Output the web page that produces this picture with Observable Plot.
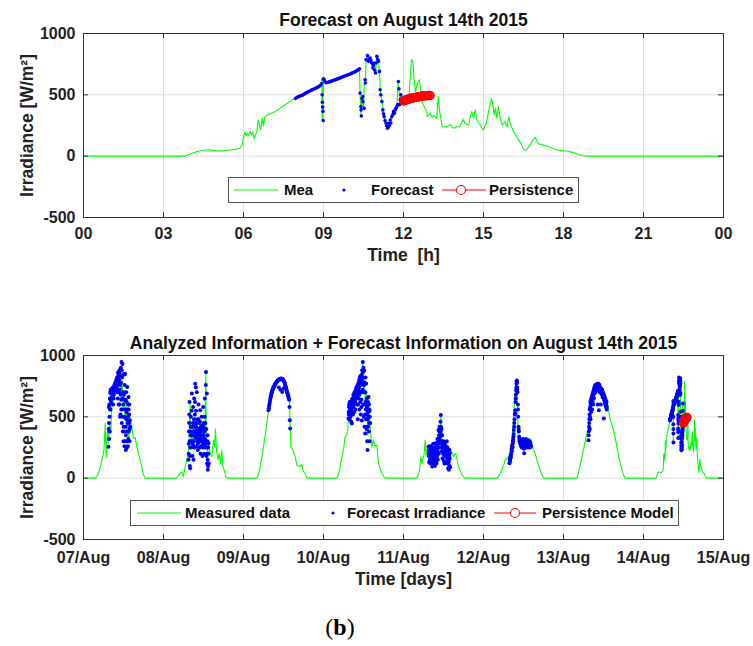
<!DOCTYPE html>
<html>
<head>
<meta charset="utf-8">
<script src="https://cdn.jsdelivr.net/npm/d3@7"></script>
<script src="https://cdn.jsdelivr.net/npm/@observablehq/plot@0.6"></script>
<style>
  body { margin: 0; background: #fff; }
  #wrap { position: relative; width: 753px; height: 646px; overflow: hidden; font-family: "Liberation Sans", Arial, sans-serif; }
  .chart { position: absolute; left: 0; }
  .legend { position: absolute; background: #fff; border: 1px solid #555; box-sizing: border-box; }
  #caption { position: absolute; left: 290px; width: 100px; top: 614px; text-align: center; font-family: "Liberation Serif", serif; font-size: 24px; color: #000; }
</style>
</head>
<body>
<div id="wrap">
  <div id="c1" class="chart" style="top:0px"></div>
  <div id="c2" class="chart" style="top:300px"></div>
  <div id="leg1" class="legend" style="left:228px; top:177px; width:351px; height:26px"></div>
  <div id="leg2" class="legend" style="left:130px; top:500px; width:549px; height:26px"></div>
  <div id="caption">(<b>b</b>)</div>
</div>
<script>
// ---------- tick labels ----------
const hourTicks = [0, 3, 6, 9, 12, 15, 18, 21, 24];
const hourTickLabels = ["00", "03", "06", "09", "12", "15", "18", "21", "00"];
const dayTicks = [0, 1, 2, 3, 4, 5, 6, 7, 8];
const dayTickLabels = ["07/Aug", "08/Aug", "09/Aug", "10/Aug", "11/Aug", "12/Aug", "13/Aug", "14/Aug", "15/Aug"];
const yTicks = [-500, 0, 500, 1000];
const yTickLabels = ["-500", "0", "500", "1000"];

const title1 = "Forecast on August 14th 2015";
const title2 = "Analyzed Information + Forecast Information on August 14th 2015";
const yLabel = "Irradiance [W/m²]";
const xLabel1 = "Time  [h]";
const xLabel2 = "Time [days]";
const legend1 = ["Mea", "Forecast", "Persistence"];
const legend2 = ["Measured data", "Forecast Irradiance", "Persistence Model"];

// ---------- August 14th (hour, W/m2) ----------
const meaAug14 = [[0,0],[3.75,0],[3.9,8],[4.1,25],[4.3,40],[4.5,50],[4.7,52],[4.9,47],[5.1,42],[5.3,45],[5.5,50],[5.7,55],[5.85,62],[5.95,90],[6.0,150],[6.05,195],[6.1,165],[6.15,185],[6.2,170],[6.25,200],[6.3,175],[6.35,195],[6.4,140],[6.5,200],[6.55,295],[6.6,250],[6.65,215],[6.7,310],[6.75,245],[6.8,320],[6.9,335],[7.0,345],[7.2,365],[7.4,395],[7.6,425],[7.8,455],[7.95,472],[8.2,497],[8.5,533],[8.9,580],[8.94,630],[8.95,290],[8.97,300],[8.99,630],[9.1,598],[9.5,628],[10.0,670],[10.35,712],[10.37,514],[10.4,330],[10.45,480],[10.5,390],[10.53,600],[10.57,620],[10.6,787],[10.65,820],[10.7,773],[10.75,800],[10.8,760],[10.85,719],[10.9,760],[10.95,678],[11.0,814],[11.06,773],[11.1,691],[11.13,541],[11.15,500],[11.2,445],[11.25,345],[11.3,290],[11.35,268],[11.4,227],[11.45,268],[11.5,295],[11.56,322],[11.63,363],[11.7,377],[11.75,404],[11.8,609],[11.83,550],[11.86,420],[11.9,500],[11.95,459],[12.0,445],[12.1,470],[12.2,486],[12.3,787],[12.35,773],[12.4,623],[12.45,527],[12.5,582],[12.6,623],[12.65,527],[12.7,445],[12.8,390],[12.85,377],[12.9,322],[13.0,350],[13.06,317],[13.15,330],[13.25,309],[13.3,486],[13.35,377],[13.45,240],[13.6,240],[13.75,254],[13.9,227],[14.0,240],[14.1,240],[14.25,300],[14.3,268],[14.45,254],[14.5,322],[14.56,363],[14.63,309],[14.69,377],[14.75,295],[14.88,254],[15.0,213],[15.12,281],[15.2,377],[15.3,473],[15.35,418],[15.4,336],[15.45,390],[15.5,309],[15.56,404],[15.63,309],[15.7,254],[15.8,281],[15.88,240],[15.95,322],[16.0,268],[16.1,213],[16.25,158],[16.4,104],[16.5,55],[16.6,49],[16.75,90],[16.85,131],[16.95,153],[17.05,104],[17.25,90],[17.45,77],[17.6,63],[17.8,49],[18.0,44],[18.2,40],[18.4,27],[18.6,10],[18.85,0],[24,0]];

const fcAug14 = [[7.95,470],[8.0,478],[8.05,483],[8.1,488],[8.15,492],[8.2,497],[8.25,502],[8.3,510],[8.35,516],[8.4,522],[8.45,527],[8.5,533],[8.55,538],[8.6,543],[8.65,548],[8.7,553],[8.75,558],[8.8,565],[8.85,572],[8.9,580],[8.93,590],[8.95,500],[8.96,440],[8.97,400],[8.98,365],[8.99,290],[9.0,630],[9.02,625],[9.05,610],[9.1,598],[9.15,600],[9.2,605],[9.25,608],[9.3,612],[9.35,616],[9.4,620],[9.45,623],[9.5,628],[9.55,632],[9.6,636],[9.65,640],[9.7,645],[9.75,650],[9.8,654],[9.85,658],[9.9,662],[9.95,666],[10.0,670],[10.05,675],[10.1,680],[10.15,685],[10.2,690],[10.25,697],[10.3,705],[10.35,712],[10.375,514],[10.4,404],[10.41,377],[10.42,328],[10.44,470],[10.475,486],[10.48,445],[10.525,390],[10.56,623],[10.57,596],[10.6,787],[10.65,820],[10.69,773],[10.72,790],[10.75,800],[10.78,780],[10.81,760],[10.85,719],[10.87,740],[10.9,760],[10.92,700],[10.95,678],[10.97,760],[11.0,814],[11.03,790],[11.06,773],[11.1,691],[11.125,541],[11.15,500],[11.19,445],[11.225,377],[11.25,345],[11.275,322],[11.31,290],[11.35,268],[11.375,245],[11.4,227],[11.425,235],[11.45,268],[11.475,250],[11.5,295],[11.525,270],[11.56,322],[11.6,340],[11.625,363],[11.66,350],[11.69,377],[11.72,390],[11.75,404],[11.78,420],[11.81,609],[11.83,550],[11.85,420],[11.875,460],[11.9,500],[11.94,459],[11.97,440]];

const persAug14 = [[12.00,450],[12.03,453],[12.07,456],[12.10,459],[12.13,461],[12.17,464],[12.20,466],[12.23,468],[12.27,470],[12.30,472],[12.33,474],[12.37,476],[12.40,477],[12.43,479],[12.47,480],[12.50,482],[12.53,483],[12.57,484],[12.60,486],[12.63,487],[12.67,488],[12.70,489],[12.73,490],[12.77,491],[12.80,492],[12.83,492],[12.87,493],[12.90,494],[12.93,494],[12.97,495],[13.00,495]];

// ---------- August 7th - 13th (hour, W/m2) ----------
const mea07 = [[0,0],[3.5,0],[4.0,15],[4.5,40],[5.0,90],[5.5,150],[6.0,200],[6.3,300],[6.5,446],[6.8,175],[7.2,392],[7.5,284],[7.8,460],[8.2,365],[8.5,600],[8.8,680],[9.2,650],[9.5,720],[9.8,700],[10.2,760],[10.5,800],[10.8,760],[11.0,850],[11.3,700],[11.6,780],[11.9,560],[12.2,720],[12.5,480],[12.8,600],[13.0,380],[13.3,520],[13.6,300],[14.0,500],[14.5,420],[15.0,324],[15.5,330],[16.0,257],[17.0,150],[18.0,27],[18.5,0]];
const fc07 = [[7.5,257],[7.55,400],[7.6,580],[7.7,320],[7.8,500],[7.9,650],[8.0,700],[8.1,560],[8.2,690],[8.3,620],[8.4,700],[8.5,716],[8.6,650],[8.7,690],[8.8,720],[8.9,600],[9.0,716],[9.1,680],[9.2,740],[9.3,700],[9.4,760],[9.5,720],[9.6,770],[9.7,740],[9.8,784],[9.9,700],[10.0,784],[10.1,760],[10.2,800],[10.3,650],[10.4,820],[10.5,838],[10.6,700],[10.7,860],[10.8,600],[10.9,878],[11.0,760],[11.1,520],[11.2,900],[11.3,640],[11.4,946],[11.5,450],[11.55,820],[11.6,560],[11.7,930],[11.8,380],[11.9,700],[12.0,300],[12.1,850],[12.2,500],[12.3,260],[12.4,640],[12.5,850],[12.6,420],[12.7,230],[12.8,700],[12.9,540],[13.0,300],[13.1,743],[13.2,450],[13.3,260],[13.4,600],[13.5,662],[13.6,380],[13.7,520],[13.8,300],[13.9,473],[14.0,420],
  [7.65,450],[7.75,600],[7.85,380],[7.95,560],[8.05,640],[8.15,720],[8.25,650],[8.35,700],[8.45,660],[8.55,730],[8.65,700],[8.75,660],[8.85,740],[8.95,700],[9.05,650],[9.15,720],[9.25,760],[9.35,730],[9.45,700],[9.55,780],[9.65,720],[9.75,760],[9.85,800],[9.95,740],[10.05,820],[10.15,700],[10.25,760],[10.35,860],[10.45,780],[10.55,600],[10.65,800],[10.75,880],[10.85,720],[10.95,500],[11.05,840],[11.15,680],[11.25,780],[11.35,560],[11.45,880],[11.65,650],[11.75,500],[11.85,840],[11.95,600],[12.05,420],[12.15,680],[12.25,380],[12.35,760],[12.45,300],[12.55,560],[12.65,640],[12.75,350],[12.85,480],[12.95,620],[13.05,250],[13.15,560],[13.25,380],[13.35,500],[13.45,320],[13.55,560],[13.65,450],[13.75,600],[13.85,400]];

const mea08 = [[0,0],[4.0,0],[4.5,25],[5.0,40],[5.5,54],[6.0,14],[6.5,95],[7.0,150],[7.5,230],[7.8,400],[8.0,608],[8.2,300],[8.5,365],[8.8,250],[9.0,450],[9.3,300],[9.6,500],[10.0,350],[10.3,420],[10.6,280],[11.0,380],[11.3,250],[11.6,420],[12.0,300],[12.4,350],[12.7,860],[12.8,300],[13.2,220],[13.5,300],[14.0,200],[14.5,175],[15.0,310],[15.3,250],[15.6,400],[15.9,230],[16.3,150],[16.7,200],[17.1,120],[17.5,230],[17.8,95],[18.2,68],[18.7,14],[19.0,0]];
const fc08 = [[7.5,150],[7.6,280],[7.7,450],[7.8,620],[7.9,100],[8.0,81],[8.1,350],[8.2,500],[8.3,250],[8.4,420],[8.5,690],[8.6,300],[8.7,180],[8.8,450],[8.9,580],[9.0,150],[9.1,380],[9.2,650],[9.3,250],[9.4,520],[9.5,770],[9.6,330],[9.7,740],[9.8,420],[9.9,260],[10.0,700],[10.1,360],[10.2,480],[10.3,230],[10.4,400],[10.5,600],[10.6,300],[10.7,450],[10.8,250],[10.9,380],[11.0,554],[11.1,200],[11.2,420],[11.3,320],[11.4,500],[11.5,260],[11.6,430],[11.7,180],[11.8,350],[11.9,580],[12.0,280],[12.1,450],[12.2,200],[12.3,380],[12.4,650],[12.5,250],[12.6,400],[12.7,760],[12.75,865],[12.8,300],[12.9,180],[13.0,690],[13.1,120],[13.2,350],[13.3,68],[13.4,250],[13.5,284],[13.6,120],
  [7.55,200],[7.65,380],[7.75,520],[7.85,300],[7.95,180],[8.05,250],[8.15,420],[8.25,380],[8.35,300],[8.45,550],[8.55,420],[8.65,350],[8.75,280],[8.85,380],[8.95,300],[9.05,260],[9.15,480],[9.25,420],[9.35,350],[9.45,620],[9.55,450],[9.65,380],[9.75,550],[9.85,330],[9.95,450],[10.05,300],[10.15,400],[10.25,350],[10.35,280],[10.45,480],[10.55,380],[10.65,320],[10.75,400],[10.85,300],[10.95,460],[11.05,350],[11.15,300],[11.25,380],[11.35,260],[11.45,400],[11.55,340],[11.65,300],[11.75,400],[11.85,250],[11.95,420],[12.05,350],[12.15,300],[12.25,260],[12.35,500],[12.45,320],[12.55,450],[12.65,280],[12.85,400],[12.95,250],[13.05,200],[13.15,300],[13.25,150],[13.35,100],[13.45,200]];

const mea09 = [[0,0],[4.0,0],[4.5,30],[5.0,95],[5.5,170],[6.0,257],[6.5,350],[7.0,446],[7.5,550],[8.0,620],[8.5,690],[9.0,730],[9.5,757],[10.0,775],[10.5,792],[11.0,800],[11.5,805],[12.0,790],[12.5,743],[13.0,700],[13.5,662],[13.8,640],[14.0,405],[14.1,420],[14.2,257],[14.8,230],[15.5,175],[16.0,108],[17.0,95],[17.5,110],[17.8,60],[18.5,40],[19.0,0]];
const fc09 = [[7.5,554],[7.6,570],[7.7,590],[7.8,605],[7.9,620],[8.0,640],[8.1,655],[8.2,665],[8.3,680],[8.4,690],[8.5,700],[8.6,710],[8.7,718],[8.8,725],[8.9,732],[9.0,740],[9.1,745],[9.2,750],[9.3,755],[9.4,760],[9.5,765],[9.6,770],[9.7,775],[9.8,780],[9.9,783],[10.0,786],[10.1,790],[10.2,792],[10.3,795],[10.4,798],[10.5,800],[10.6,740],[10.7,802],[10.8,805],[10.9,808],[11.0,810],[11.1,720],[11.2,811],[11.3,812],[11.4,811],[11.5,811],[11.6,703],[11.7,808],[11.8,805],[11.9,800],[12.0,795],[12.1,730],[12.2,788],[12.3,780],[12.4,770],[12.5,760],[12.6,750],[12.7,743],[12.8,735],[12.9,720],[13.0,710],[13.1,700],[13.2,690],[13.3,680],[13.4,670],[13.5,662],[13.6,650],[13.7,640],[13.8,580],[13.9,473],[14.0,405]];

const mea10 = [[0,0],[4.0,0],[4.5,30],[5.0,95],[5.5,170],[6.0,230],[6.5,338],[7.0,351],[7.3,392],[7.5,486],[7.8,560],[8.0,620],[8.3,540],[8.6,650],[9.0,600],[9.3,700],[9.6,620],[10.0,740],[10.3,680],[10.6,800],[10.9,700],[11.2,850],[11.5,760],[11.8,946],[12.0,700],[12.3,800],[12.6,550],[12.9,700],[13.2,350],[13.5,600],[14.0,420],[14.5,257],[15.0,310],[15.5,260],[16.0,270],[16.5,122],[17.0,80],[17.5,40],[18.0,15],[18.6,0]];
const fc10 = [[7.5,486],[7.6,520],[7.7,600],[7.8,480],[7.9,560],[8.0,608],[8.1,500],[8.2,580],[8.3,460],[8.4,620],[8.5,446],[8.6,600],[8.7,650],[8.8,520],[8.9,640],[9.0,580],[9.1,660],[9.2,540],[9.3,700],[9.4,620],[9.5,680],[9.6,560],[9.7,720],[9.8,650],[9.9,700],[10.0,743],[10.1,600],[10.2,760],[10.3,480],[10.4,720],[10.5,780],[10.6,650],[10.7,800],[10.8,560],[10.9,824],[11.0,700],[11.1,780],[11.2,520],[11.3,840],[11.4,640],[11.5,470],[11.6,880],[11.7,720],[11.8,946],[11.9,600],[12.0,900],[12.1,500],[12.2,878],[12.3,420],[12.4,700],[12.5,365],[12.6,820],[12.7,560],[12.8,770],[12.9,400],[13.0,650],[13.1,300],[13.2,230],[13.3,550],[13.4,420],[13.5,662],[13.6,380],[13.7,560],[13.8,300],[13.9,500],[14.0,450],
  [7.55,540],[7.65,580],[7.75,520],[7.85,620],[7.95,540],[8.05,580],[8.15,620],[8.25,560],[8.35,600],[8.45,540],[8.55,640],[8.65,580],[8.75,620],[8.85,600],[8.95,680],[9.05,620],[9.15,600],[9.25,660],[9.35,640],[9.45,700],[9.55,620],[9.65,680],[9.75,660],[9.85,740],[9.95,680],[10.05,700],[10.15,660],[10.25,720],[10.35,600],[10.45,760],[10.55,700],[10.65,740],[10.75,680],[10.85,780],[10.95,760],[11.05,620],[11.15,700],[11.25,760],[11.35,580],[11.45,800],[11.55,700],[11.65,820],[11.75,860],[11.85,780],[11.95,820],[12.05,700],[12.15,760],[12.25,600],[12.35,780],[12.45,520],[12.55,700],[12.65,620],[12.75,480],[12.85,600],[12.95,520],[13.05,580],[13.15,420],[13.25,480],[13.35,620],[13.45,540],[13.55,500],[13.65,600],[13.75,450],[13.85,550]];

const mea11 = [[0,0],[4.0,0],[4.5,30],[4.8,68],[5.2,175],[5.5,120],[5.8,150],[6.2,200],[6.5,310],[6.8,180],[7.0,230],[7.5,200],[8.0,250],[8.5,180],[9.0,240],[9.5,200],[10.0,260],[10.5,300],[11.0,400],[11.2,514],[11.5,320],[12.0,280],[12.5,240],[13.0,280],[13.5,200],[14.0,230],[14.5,215],[15.0,175],[15.5,200],[15.8,190],[16.5,95],[17.5,27],[18.5,0]];
const fc11 = [[7.5,257],[7.6,180],[7.7,130],[7.8,240],[7.9,150],[8.0,122],[8.1,220],[8.2,170],[8.3,260],[8.4,130],[8.5,200],[8.6,95],[8.7,240],[8.8,160],[8.9,280],[9.0,110],[9.1,200],[9.2,150],[9.3,250],[9.4,100],[9.5,190],[9.6,284],[9.7,140],[9.8,220],[9.9,120],[10.0,260],[10.1,180],[10.2,320],[10.3,150],[10.4,250],[10.5,392],[10.6,200],[10.7,300],[10.8,420],[10.9,250],[11.0,350],[11.1,460],[11.2,514],[11.3,300],[11.4,400],[11.5,220],[11.6,350],[11.7,160],[11.8,280],[11.9,200],[12.0,300],[12.1,140],[12.2,250],[12.3,120],[12.4,280],[12.5,180],[12.6,260],[12.7,130],[12.8,240],[12.9,170],[13.0,300],[13.1,120],[13.2,250],[13.3,200],[13.4,80],[13.5,230],[13.6,68],[13.7,180],[13.8,100],[13.9,203],[14.0,90],
  [7.55,200],[7.65,230],[7.75,180],[7.85,210],[7.95,260],[8.05,180],[8.15,140],[8.25,200],[8.35,230],[8.45,170],[8.55,250],[8.65,200],[8.75,130],[8.85,220],[8.95,190],[9.05,240],[9.15,180],[9.25,130],[9.35,210],[9.45,230],[9.55,160],[9.65,220],[9.75,250],[9.85,180],[9.95,230],[10.05,200],[10.15,280],[10.25,220],[10.35,300],[10.45,320],[10.55,280],[10.65,350],[10.75,380],[10.85,330],[10.95,300],[11.05,400],[11.15,380],[11.25,420],[11.35,350],[11.45,300],[11.55,280],[11.65,260],[11.75,220],[11.85,240],[11.95,260],[12.05,220],[12.15,200],[12.25,180],[12.35,230],[12.45,210],[12.55,220],[12.65,190],[12.75,200],[12.85,230],[12.95,210],[13.05,180],[13.15,200],[13.25,150],[13.35,230],[13.45,180],[13.55,130],[13.65,150],[13.75,230],[13.85,160]];

const mea12 = [[0,0],[4.0,0],[4.7,20],[5.5,68],[6.0,100],[6.5,150],[7.0,160],[7.5,175],[7.8,122],[8.2,250],[8.5,300],[8.8,420],[9.2,554],[9.5,716],[9.8,780],[10.0,800],[10.2,600],[10.4,360],[10.8,300],[11.2,284],[11.6,320],[12.0,290],[12.4,330],[12.8,280],[13.2,320],[13.6,260],[14.0,300],[14.5,284],[15.0,230],[15.5,203],[16.0,150],[16.5,110],[17.0,68],[17.5,30],[18.0,0]];
const fc12 = [[7.8,122],[7.9,150],[8.0,140],[8.1,180],[8.2,170],[8.3,203],[8.4,230],[8.5,220],[8.6,260],[8.7,250],[8.8,284],[8.9,320],[9.0,340],[9.1,392],[9.2,420],[9.3,480],[9.4,520],[9.5,554],[9.6,620],[9.7,680],[9.8,716],[9.9,770],[10.0,797],[10.05,780],[10.1,740],[10.2,700],[10.3,600],[10.4,500],[10.5,420],[10.6,380],[10.7,338],[10.8,300],[10.9,320],[11.0,284],[11.1,300],[11.2,284],[11.3,260],[11.4,310],[11.5,250],[11.6,300],[11.7,280],[11.8,320],[11.9,270],[12.0,297],[12.1,240],[12.2,203],[12.3,280],[12.4,310],[12.5,260],[12.6,300],[12.7,320],[12.8,250],[12.9,290],[13.0,310],[13.1,270],[13.2,300],[13.3,250],[13.4,290],[13.5,310],[13.6,260],[13.7,300],[13.8,280],[13.9,250],[14.0,290],[14.1,270],[14.2,257],
  [7.85,140],[8.05,160],[8.25,190],[8.45,240],[8.65,270],[8.85,300],[9.05,360],[9.25,450],[9.45,530],[9.65,650],[9.85,740],[9.95,790],[10.15,720],[10.35,560],[10.55,400],[10.75,320],[10.95,300],[11.05,300],[11.15,270],[11.25,310],[11.35,280],[11.45,260],[11.55,290],[11.65,310],[11.75,260],[11.85,290],[11.95,310],[12.05,260],[12.15,290],[12.25,250],[12.35,300],[12.45,280],[12.55,310],[12.65,270],[12.75,290],[12.85,310],[12.95,260],[13.05,290],[13.15,310],[13.25,280],[13.35,300],[13.45,270],[13.55,290],[13.65,280],[13.75,260],[13.85,300],[13.95,270],[14.05,280],[14.15,260]];

const mea13 = [[0,0],[4.0,0],[4.5,40],[5.0,108],[5.5,170],[6.0,230],[6.5,300],[7.0,365],[7.5,420],[8.0,500],[8.5,580],[9.0,640],[9.5,700],[10.0,740],[10.5,770],[11.0,740],[11.5,720],[12.0,700],[12.5,650],[13.0,620],[13.5,560],[14.0,473],[14.5,440],[15.0,392],[15.5,330],[16.0,257],[16.5,190],[17.0,122],[17.5,70],[18.0,27],[18.5,0]];
const fc13 = [[7.5,310],[7.6,380],[7.7,450],[7.8,520],[7.9,400],[8.0,580],[8.1,480],[8.2,600],[8.3,540],[8.4,620],[8.5,662],[8.6,560],[8.7,640],[8.8,680],[8.9,600],[9.0,700],[9.1,650],[9.2,720],[9.3,690],[9.4,730],[9.5,757],[9.6,700],[9.7,740],[9.8,760],[9.9,720],[10.0,765],[10.1,740],[10.2,770],[10.3,600],[10.4,760],[10.5,770],[10.6,554],[10.7,750],[10.8,760],[10.9,700],[11.0,740],[11.1,720],[11.2,600],[11.3,730],[11.4,710],[11.5,700],[11.6,720],[11.7,690],[11.8,703],[11.9,680],[12.0,690],[12.1,486],[12.2,660],[12.3,670],[12.4,640],[12.5,650],[12.6,620],[12.7,635],[12.8,600],[12.9,620],[13.0,580],
  [7.55,350],[7.65,420],[7.75,480],[7.85,560],[7.95,500],[8.05,620],[8.15,560],[8.25,640],[8.35,600],[8.45,660],[8.55,640],[8.65,680],[8.75,620],[8.85,700],[8.95,660],[9.05,720],[9.15,700],[9.25,740],[9.35,720],[9.45,700],[9.55,740],[9.65,760],[9.75,720],[9.85,750],[9.95,740],[10.05,720],[10.15,760],[10.25,740],[10.35,720],[10.45,750],[10.55,740],[10.65,720],[10.75,740],[10.85,730],[10.95,720],[11.05,710],[11.15,700],[11.25,720],[11.35,690],[11.45,720],[11.55,680],[11.65,700],[11.75,660],[11.85,690],[11.95,660],[12.05,670],[12.15,640],[12.25,650],[12.35,620],[12.45,640],[12.55,600],[12.65,610],[12.75,580],[12.85,590],[12.95,560]];

// ---------- colours ----------
const GREEN = "#00ff00", BLUE = "#0000ff", RED = "#ff0000";
const FONT = "'Liberation Sans', Arial, Helvetica, sans-serif";

// ---------- tables ----------
const hourRows = (pairs) => pairs.map(([h, v]) => ({ t: h, v }));
const dayRows = (pairs, day) => pairs.map(([h, v]) => ({ t: day + h / 24, v }));

const topMea = hourRows(meaAug14), topFc = hourRows(fcAug14), topPers = hourRows(persAug14);
const meaDays = [mea07, mea08, mea09, mea10, mea11, mea12, mea13, meaAug14];
const fcDays = [fc07, fc08, fc09, fc10, fc11, fc12, fc13, fcAug14];
const botMea = meaDays.flatMap((p, i) => dayRows(p, i));
const botFc = fcDays.flatMap((p, i) => dayRows(p, i));
const botPers = dayRows(persAug14, 7);

function chart({ ticks, tickLabels, domain, mea, fc, pers, title, xLabel, marginTop, marginBottom, titleDy, tickPad, xLabelDy, dotR }) {
  const height = 300, mL = 83, mR = 30;
  const fh = height - marginTop - marginBottom, fw = 753 - mL - mR;
  const tickStroke = "#333";
  return Plot.plot({
    width: 753, height,
    marginLeft: mL, marginRight: mR, marginTop, marginBottom,
    style: { fontFamily: FONT, background: "#fff", overflow: "visible" },
    x: { domain, label: null },
    y: { domain: [-500, 1000], label: null },
    marks: [
      Plot.gridX(ticks, { stroke: "#dedede", strokeOpacity: 1, strokeWidth: 1 }),
      Plot.gridY(yTicks, { stroke: "#dedede", strokeOpacity: 1, strokeWidth: 1 }),
      Plot.line(mea, { x: "t", y: "v", stroke: GREEN, strokeWidth: 1.1 }),
      Plot.dot(fc, { x: "t", y: "v", r: dotR, fill: BLUE, stroke: "none" }),
      Plot.dot(pers, { x: "t", y: "v", r: 4, fill: "none", stroke: RED, strokeWidth: 1.3 }),
      Plot.frame({ stroke: tickStroke, strokeWidth: 1 }),
      Plot.tickX(ticks, { x: d => d, stroke: tickStroke, insetTop: fh - 5 }),
      Plot.tickX(ticks, { x: d => d, stroke: tickStroke, insetBottom: fh - 5 }),
      Plot.tickY(yTicks, { y: d => d, stroke: tickStroke, insetRight: fw - 5 }),
      Plot.tickY(yTicks, { y: d => d, stroke: tickStroke, insetLeft: fw - 5 }),
      Plot.axisX(ticks, { tickSize: 0, tickPadding: tickPad, fontSize: 16, fontWeight: "bold", fill: "#222",
        tickFormat: d => tickLabels[ticks.indexOf(d)] }),
      Plot.axisY(yTicks, { tickSize: 0, tickPadding: 8, fontSize: 16, fontWeight: "bold", fill: "#222",
        tickFormat: d => yTickLabels[yTicks.indexOf(d)] }),
      Plot.text([title], { text: d => d, frameAnchor: "top", lineAnchor: "middle", dy: titleDy, fontSize: 17.5, fontWeight: "bold", fill: "#111" }),
      Plot.text([xLabel], { text: d => d, frameAnchor: "bottom", lineAnchor: "middle", dy: xLabelDy, fontSize: 17.5, fontWeight: "bold", fill: "#222" }),
      Plot.text([yLabel], { text: d => d, frameAnchor: "left", textAnchor: "middle", lineAnchor: "middle", dx: -56, rotate: -90, fontSize: 17.5, fontWeight: "bold", fill: "#222" })
    ]
  });
}

document.getElementById("c1").append(chart({
  ticks: hourTicks, tickLabels: hourTickLabels, domain: [0, 24],
  mea: topMea, fc: topFc, pers: topPers, title: title1, xLabel: xLabel1,
  marginTop: 33, marginBottom: 83, titleDy: -13, tickPad: 10, xLabelDy: 38, dotR: 1.8
}));
document.getElementById("c2").append(chart({
  ticks: dayTicks, tickLabels: dayTickLabels, domain: [0, 8],
  mea: botMea, fc: botFc, pers: botPers, title: title2, xLabel: xLabel2,
  marginTop: 55, marginBottom: 61, titleDy: -12, tickPad: 12, xLabelDy: 40, dotR: 2
}));

// ---------- legends (swatches + real text) ----------
function legend(id, labels, pos) {
  const el = document.getElementById(id);
  const w = el.clientWidth, h = el.clientHeight;
  const svg = d3.select(el).append("svg").attr("width", w).attr("height", h)
    .style("display", "block").style("font-family", FONT);
  const cy = h / 2;
  svg.append("line").attr("x1", pos.g[0]).attr("x2", pos.g[1]).attr("y1", cy).attr("y2", cy)
    .attr("stroke", GREEN).attr("stroke-width", 1.1);
  svg.append("circle").attr("cx", pos.b).attr("cy", cy).attr("r", 1.6).attr("fill", BLUE);
  svg.append("line").attr("x1", pos.r[0]).attr("x2", pos.r[1]).attr("y1", cy).attr("y2", cy)
    .attr("stroke", RED).attr("stroke-width", 1.1);
  svg.append("circle").attr("cx", pos.rc).attr("cy", cy).attr("r", 4.5).attr("fill", "#fff")
    .attr("stroke", RED).attr("stroke-width", 1.1);
  labels.forEach((t, i) => {
    svg.append("text").attr("x", pos.t[i]).attr("y", cy).attr("dy", "0.35em")
      .attr("font-size", 15).attr("font-weight", "bold").attr("fill", "#111").text(t);
  });
}
legend("leg1", legend1, { g: [5, 49], b: 115, r: [213, 257], rc: 232, t: [55, 142, 260] });
legend("leg2", legend2, { g: [6, 50], b: 202, r: [363, 405], rc: 384, t: [54, 216, 411] });
</script>
</body>
</html>
